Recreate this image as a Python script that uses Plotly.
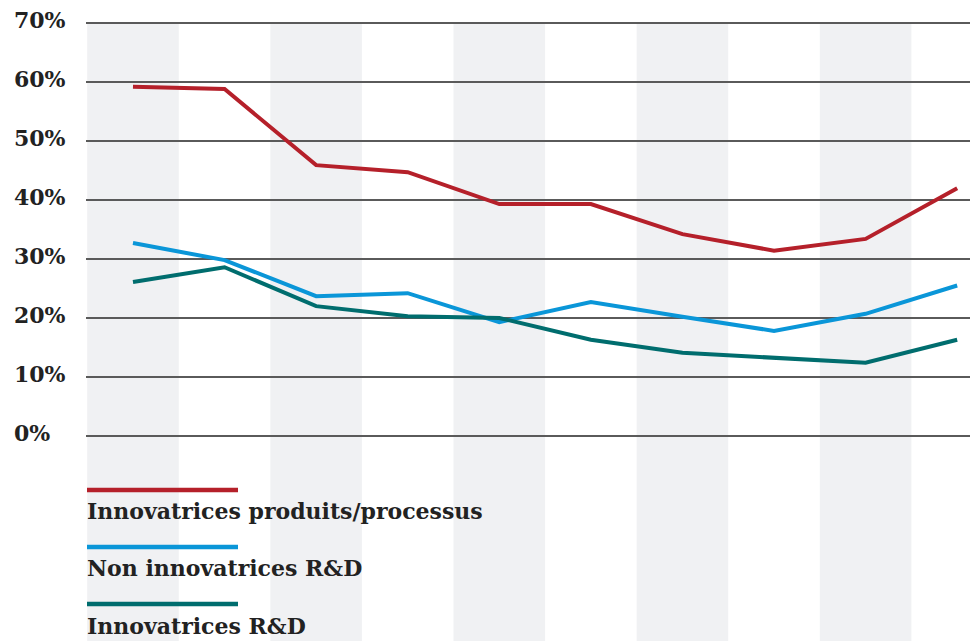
import plotly.graph_objects as go

periods = list(range(10))
innov_prod = [59.2, 58.8, 45.9, 44.7, 39.3, 39.3, 34.2, 31.4, 33.4, 42.0]
non_innov_rd = [32.7, 29.8, 23.7, 24.2, 19.3, 22.7, 20.2, 17.8, 20.7, 25.5]
innov_rd = [26.1, 28.6, 22.0, 20.3, 20.0, 16.3, 14.1, 13.2, 12.4, 16.3]
tick_vals = [0, 10, 20, 30, 40, 50, 60, 70]
tick_text = ["0%", "10%", "20%", "30%", "40%", "50%", "60%", "70%"]

series = [
    ("Innovatrices produits/processus", innov_prod, "#b5202a"),
    ("Non innovatrices R&D", non_innov_rd, "#0a96d8"),
    ("Innovatrices R&D", innov_rd, "#006d6e"),
]

W, H = 979, 641
L, R, T, B = 86, 9, 20, 0
YMIN, YMAX = -34.75, 70.5
fig = go.Figure()
for name, vals, col in series:
    fig.add_trace(go.Scatter(x=periods, y=vals, mode="lines", name=name,
                             line=dict(color=col, width=4), showlegend=False,
                             hoverinfo="skip"))

shapes = []
for i in range(0, 10, 2):
    shapes.append(dict(type="rect", xref="x", yref="y", x0=i - 0.5, x1=i + 0.5,
                       y0=YMIN, y1=70, fillcolor="#f0f1f3", line=dict(width=0), layer="below"))

def py(p):
    return (H - p) / (H - T)

def px(p):
    return (p - L) / (W - L - R)

annotations = []
for v, t in zip(tick_vals, tick_text):
    annotations.append(dict(text=t, xref="paper", yref="y", x=px(12), y=v + 0.5,
                            xanchor="left", yanchor="middle", showarrow=False,
                            font=dict(family="DejaVu Serif", size=22, color="#222", weight="bold")))
leg_line_y = [490, 547, 604]
leg_text_y = [511, 568, 626]
for (name, vals, col), ly, ty in zip(series, leg_line_y, leg_text_y):
    shapes.append(dict(type="line", xref="paper", yref="paper", x0=px(87), x1=px(238),
                       y0=py(ly), y1=py(ly), line=dict(color=col, width=4.5)))
    annotations.append(dict(text=name, xref="paper", yref="paper", x=px(85), y=py(ty),
                            xanchor="left", yanchor="middle", showarrow=False,
                            font=dict(family="DejaVu Serif", size=22, color="#222", weight="bold")))

fig.update_layout(
    width=W, height=H, margin=dict(l=L, r=R, t=T, b=B),
    paper_bgcolor="white", plot_bgcolor="white",
    shapes=shapes, annotations=annotations,
    xaxis=dict(range=[-0.513, 9.14], showgrid=False, zeroline=False,
               showticklabels=False, ticks="", fixedrange=True),
    yaxis=dict(range=[YMIN, YMAX], tickvals=tick_vals, showticklabels=False,
               showgrid=True, gridcolor="#5a5a5a", gridwidth=1.5, zeroline=False,
               ticks="", fixedrange=True),
)
fig.write_html("out.html", config={"displayModeBar": False})
